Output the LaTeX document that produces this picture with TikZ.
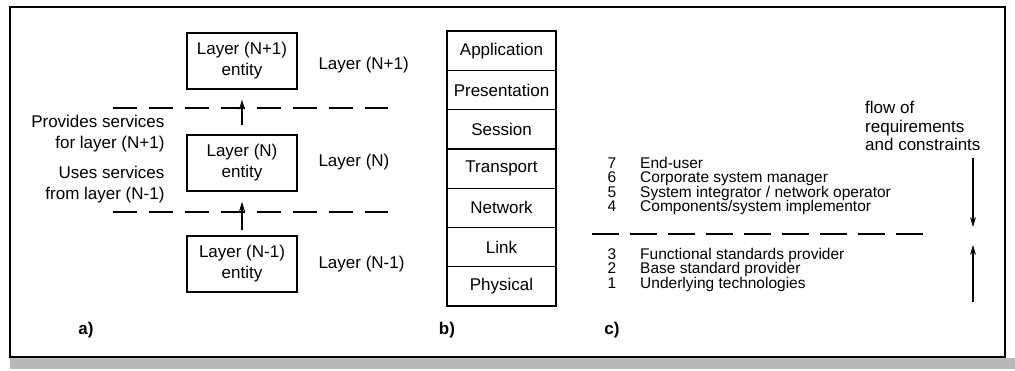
\documentclass[tikz,border=0pt]{standalone}
\usepackage{fontspec}
\setmainfont{Liberation Sans}
\usetikzlibrary{arrows.meta}

\begin{document}
\begin{tikzpicture}[x=1pt,y=-1pt,
    font=\fontsize{17}{21}\selectfont,
    entitybox/.style={draw,line width=1.3pt,minimum width=110pt,minimum height=56pt,align=center,inner sep=0pt},
    osibox/.style={draw,line width=1.3pt,minimum width=109pt,minimum height=39.3pt,inner sep=0pt},
    rolerow/.style={font=\fontsize{15.5}{17}\selectfont,inner sep=0pt},
    upflow/.style={line width=1.2pt,-{Stealth[length=10pt,width=6pt]}},
    splitline/.style={line width=1.3pt,dash pattern=on 24pt off 12pt}]

    % Fix the size of the page
    \useasboundingbox (0,0) rectangle (1015,370);

    % Outer frame and scanned shadow at the bottom
    \fill[gray!55] (10,358) rectangle (1015,369);
    \draw[line width=2pt] (10,7) rectangle (1005,357);

    % a) layer entities
    \node[entitybox] (upper) at (242,61) {Layer (N+1)\\entity};
    \node[entitybox] (middle) at (242,163) {Layer (N)\\entity};
    \node[entitybox] (lower) at (242,264) {Layer (N-1)\\entity};

    \node[anchor=base west] (upperlabel) at (315,69) {Layer (N+1)};
    \node[anchor=base west] (middlelabel) at (315,166) {Layer (N)};
    \node[anchor=base west] (lowerlabel) at (315,268) {Layer (N-1)};

    \node[anchor=east,align=right] (provides) at (168,134) {Provides services\\for layer (N+1)};
    \node[anchor=east,align=right] (uses) at (168,185) {Uses services\\from layer (N-1)};

    % Layer borders
    \draw[splitline] (113,108) -- (388,108);
    \draw[splitline] (113,212) -- (388,212);

    % Service arrows
    \draw[upflow,shorten <=9pt,shorten >=10pt] (middle.north) -- (upper.south);
    \draw[upflow,shorten <=5pt,shorten >=10pt] (lower.north) -- (middle.south);

    \node[anchor=base,font=\fontsize{17}{21}\selectfont\bfseries] (tagA) at (86,334) {a)};

    % b) seven layer stack
    \foreach \name [count=\i] in {Application,Presentation,Session,Transport,Network,Link,Physical}
        \node[osibox] (osi\i) at (501.5,{31+39.3*(\i-0.5)}) {\name};

    \node[anchor=base,font=\fontsize{17}{21}\selectfont\bfseries] (tagB) at (447,334) {b)};

    % c) roles
    \foreach \num/\role/\y in {7/End-user/168,6/Corporate system manager/182.5,
            5/{System integrator / network operator}/197,4/{Components/system implementor}/211.5,
            3/Functional standards provider/259,2/Base standard provider/273.5,1/Underlying technologies/288} {
        \node[rolerow,anchor=base] (num\num) at (612,\y) {\num};
        \node[rolerow,anchor=base west] (role\num) at (640,\y) {\role};
    }

    \draw[line width=1.3pt,dash pattern=on 27pt off 11pt] (592,234) -- (928,234);

    \node[anchor=base west,inner sep=0pt] (flow1) at (865,113) {flow of};
    \node[anchor=base west,inner sep=0pt] (flow2) at (865,132) {requirements};
    \node[anchor=base west,inner sep=0pt] (flow3) at (865,150) {and constraints};

    % Flow arrows
    \coordinate (downstart) at (973,158);
    \coordinate (downend) at (973,227);
    \coordinate (upstart) at (973,302);
    \coordinate (upend) at (973,245);
    \draw[upflow] (downstart) -- (downend);
    \draw[upflow] (upstart) -- (upend);

    \node[anchor=base,font=\fontsize{17}{21}\selectfont\bfseries] (tagC) at (612,334) {c)};

\end{tikzpicture}
\end{document}
